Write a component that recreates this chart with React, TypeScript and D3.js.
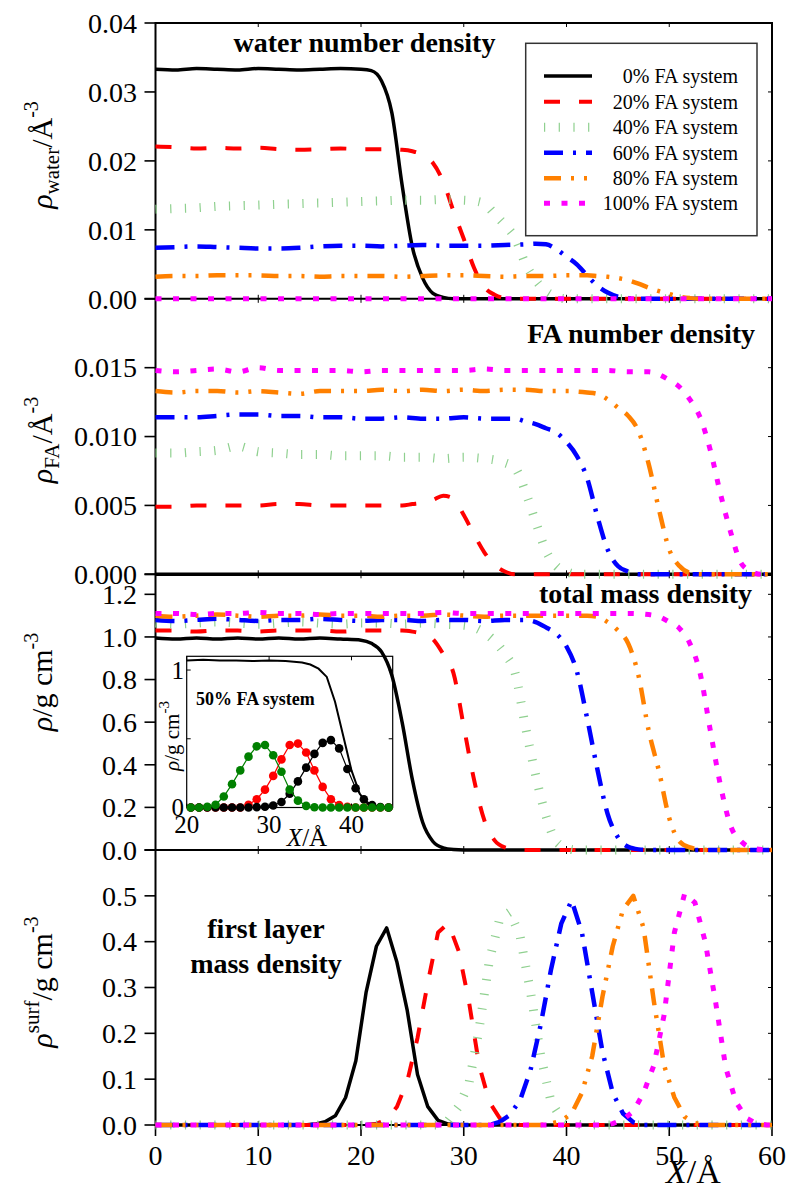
import React from 'react';
import * as d3 from 'd3';

type Pt = [number, number];

// ---------- labels ----------
const SERIES_LABELS = ['0% FA system', '20% FA system', '40% FA system', '60% FA system', '80% FA system', '100% FA system'];
const X_TICKS = [0, 10, 20, 30, 40, 50, 60];
const Y1_TICKS = [0, 0.01, 0.02, 0.03, 0.04];
const Y2_TICKS = [0, 0.005, 0.01, 0.015];
const Y3_TICKS = [0, 0.2, 0.4, 0.6, 0.8, 1.0, 1.2];
const Y4_TICKS = [0, 0.1, 0.2, 0.3, 0.4, 0.5];
const INSET_X_TICKS = [20, 30, 40];
const INSET_Y_TICKS = [0, 1];

// ---------- panel 1 : water number density ----------
const W0: Pt[] = [[0, .0333], [2, .0332], [4, .0334], [6, .0333], [8, .0332], [10, .0334], [12, .0333], [14, .0332], [16, .0333], [18, .0334], [20, .0333], [21, .0331], [22, .0316], [23, .027], [24, .0165], [25, .0075], [26, .003], [27, .0008], [28, .0002], [29, 0], [60, 0]];
const W20: Pt[] = [[0, .0221], [2, .022], [4, .0218], [6, .0219], [8, .0218], [10, .0219], [12, .0217], [14, .0216], [16, .0217], [18, .0218], [20, .0217], [22, .0217], [24, .0216], [25, .0214], [26, .0209], [27, .0197], [28, .0170], [29, .0127], [30, .0087], [31, .0045], [32, .0017], [33, .0006], [34, .0001], [35, 0], [60, 0]];
const W40: Pt[] = [[0, .013], [2, .0131], [4, .0132], [6, .0134], [8, .0135], [10, .0136], [12, .0137], [14, .0138], [16, .0139], [18, .014], [20, .0141], [22, .0142], [24, .0143], [26, .0143], [28, .0144], [30, .0143], [31, .0142], [32, .0138], [33, .0123], [34, .0107], [35, .0088], [36, .0051], [37, .0027], [38, .0011], [39, .0003], [40, 0], [60, 0]];
const W60: Pt[] = [[0, .0074], [2, .0075], [4, .0076], [6, .0075], [8, .0074], [10, .0073], [12, .0073], [14, .0074], [16, .0076], [18, .0077], [20, .0077], [22, .0076], [24, .0077], [26, .0078], [28, .0077], [30, .0077], [32, .0077], [34, .0078], [36, .0079], [37, .008], [38, .0079], [39, .0072], [40, .0061], [41, .005], [42, .0034], [43, .0019], [44, .0009], [45, .0003], [46, .0001], [47, 0], [60, 0]];
const W80: Pt[] = [[0, .0032], [2, .0033], [4, .0033], [6, .0034], [8, .0034], [10, .0034], [12, .0033], [14, .0033], [16, .0032], [18, .0033], [20, .0033], [22, .0033], [24, .0032], [26, .0033], [28, .0034], [30, .0034], [32, .0033], [34, .0032], [36, .0033], [38, .0033], [40, .0034], [42, .0034], [43, .0033], [44, .0032], [45, .003], [46, .0027], [47, .0022], [48, .0016], [49, .0011], [50, .0007], [51, .0003], [52, .0001], [53, 0], [60, 0]];
const W100: Pt[] = [[0, 0], [60, 0]];

// ---------- panel 2 : FA number density ----------
const F0: Pt[] = [[0, 0], [60, 0]];
const F20: Pt[] = [[0, .0049], [2, .0049], [4, .005], [6, .005], [8, .005], [10, .005], [12, .0051], [14, .0051], [16, .005], [18, .005], [20, .005], [22, .005], [24, .005], [25, .0051], [26, .0052], [27, .0054], [28, .0057], [29, .0055], [30, .0043], [31, .0029], [32, .0016], [33, .0007], [34, .0002], [35, 0], [60, 0]];
const F40: Pt[] = [[0, .0088], [2, .0088], [4, .0089], [6, .009], [8, .0093], [10, .0089], [12, .0088], [14, .0087], [16, .0087], [18, .0086], [20, .0086], [22, .0086], [24, .0085], [26, .0085], [28, .0084], [30, .0085], [32, .0084], [33, .0083], [34, .0081], [35, .0077], [36, .006], [37, .0038], [38, .0017], [39, .0006], [40, .0002], [41, 0], [60, 0]];
const F60: Pt[] = [[0, .0114], [2, .0114], [4, .0114], [6, .0115], [8, .0116], [10, .0116], [12, .0115], [14, .0115], [16, .0114], [18, .0114], [20, .0113], [22, .0113], [24, .0114], [26, .0113], [28, .0113], [30, .0114], [32, .0113], [34, .0113], [35, .0113], [36, .0111], [37, .0109], [38, .0106], [39, .0103], [40, .0096], [41, .0086], [42, .007], [43, .0042], [44, .0018], [45, .0006], [46, .0002], [47, 0], [60, 0]];
const F80: Pt[] = [[0, .0133], [2, .0132], [4, .0133], [6, .0133], [8, .0132], [10, .0133], [12, .0132], [14, .0131], [16, .0133], [18, .0133], [20, .0133], [22, .0134], [24, .0133], [26, .0134], [28, .0133], [30, .0134], [32, .0133], [34, .0134], [36, .0134], [38, .0133], [40, .0133], [42, .0132], [43, .0131], [44, .0127], [45, .0121], [46, .0115], [47, .0104], [48, .008], [49, .0047], [50, .0018], [51, .0006], [52, .0001], [53, 0], [60, 0]];
const F100: Pt[] = [[0, .0148], [2, .0147], [4, .0148], [6, .0149], [8, .0147], [10, .015], [12, .0148], [14, .0148], [16, .0148], [18, .0148], [20, .0147], [22, .0148], [24, .0148], [26, .0148], [28, .0148], [30, .0148], [32, .0149], [34, .0148], [36, .0148], [38, .0148], [40, .0148], [42, .0148], [44, .0148], [46, .0147], [47, .0147], [48, .0147], [49, .0145], [50, .0141], [51, .0136], [52, .0127], [53, .0114], [54, .009], [55, .0058], [56, .003], [57, .0008], [58, .0002], [59, 0], [60, 0]];

// ---------- panel 3 : total mass density ----------
const T0: Pt[] = [[0, .995], [2, .99], [4, .995], [6, .99], [8, .995], [10, .99], [12, .995], [14, .99], [16, .995], [18, .99], [20, .985], [21, .97], [22, .93], [23, .82], [24, .6], [25, .33], [26, .13], [27, .04], [28, .01], [29, .002], [30, 0], [60, 0]];
const T20: Pt[] = [[0, 1.03], [2, 1.03], [4, 1.025], [6, 1.03], [8, 1.03], [10, 1.025], [12, 1.03], [14, 1.03], [16, 1.03], [18, 1.025], [20, 1.03], [22, 1.03], [24, 1.03], [25, 1.025], [26, 1.015], [27, .99], [28, .92], [29, .83], [30, .58], [31, .33], [32, .14], [33, .045], [34, .012], [35, .003], [36, 0], [60, 0]];
const T40: Pt[] = [[0, 1.065], [2, 1.06], [4, 1.065], [6, 1.07], [8, 1.065], [10, 1.06], [12, 1.065], [14, 1.07], [16, 1.065], [18, 1.06], [20, 1.065], [22, 1.065], [24, 1.06], [26, 1.065], [28, 1.06], [30, 1.055], [31, 1.045], [32, 1.02], [33, .98], [34, .92], [35, .83], [36, .58], [37, .35], [38, .16], [39, .04], [40, .01], [41, 0], [60, 0]];
const T60: Pt[] = [[0, 1.08], [2, 1.075], [4, 1.08], [6, 1.085], [8, 1.08], [10, 1.075], [12, 1.08], [14, 1.08], [16, 1.085], [18, 1.08], [20, 1.075], [22, 1.08], [24, 1.08], [26, 1.075], [28, 1.08], [30, 1.08], [32, 1.075], [34, 1.08], [36, 1.08], [37, 1.07], [38, 1.045], [39, 1.015], [40, .955], [41, .84], [42, .62], [43, .38], [44, .17], [45, .06], [46, .015], [47, .003], [48, 0], [60, 0]];
const T80: Pt[] = [[0, 1.1], [2, 1.095], [4, 1.1], [6, 1.105], [8, 1.1], [10, 1.095], [12, 1.1], [14, 1.1], [16, 1.105], [18, 1.1], [20, 1.1], [22, 1.095], [24, 1.1], [26, 1.1], [28, 1.105], [30, 1.1], [32, 1.095], [34, 1.1], [36, 1.1], [38, 1.1], [40, 1.1], [42, 1.1], [43, 1.095], [44, 1.07], [45, 1.03], [46, .97], [47, .82], [48, .56], [49, .37], [50, .15], [51, .04], [52, .012], [53, .003], [54, 0], [60, 0]];
const T100: Pt[] = [[0, 1.11], [2, 1.11], [4, 1.105], [6, 1.11], [8, 1.11], [10, 1.115], [12, 1.11], [14, 1.11], [16, 1.105], [18, 1.11], [20, 1.11], [22, 1.11], [24, 1.11], [26, 1.11], [28, 1.115], [30, 1.11], [32, 1.11], [34, 1.11], [36, 1.11], [38, 1.11], [40, 1.11], [42, 1.11], [44, 1.11], [46, 1.11], [48, 1.105], [49, 1.095], [50, 1.07], [51, 1.04], [52, .97], [53, .83], [54, .56], [55, .30], [56, .11], [57, .04], [58, .01], [59, .002], [60, 0]];

// ---------- panel 4 : first layer mass density ----------
const S0: Pt[] = [[0, 0], [14.5, 0], [15.5, .002], [16.5, .007], [17.5, .02], [18.5, .06], [19.5, .14], [20.5, .29], [21.5, .39], [22.5, .43], [23.5, .355], [24.5, .25], [25.5, .11], [26.5, .04], [27.5, .01], [28.5, .002], [29.5, 0], [60, 0]];
const S20: Pt[] = [[0, 0], [20.5, 0], [21.5, .003], [22.5, .012], [23.5, .04], [24.5, .095], [25.5, .19], [26.5, .31], [27.5, .42], [28.5, .44], [29.5, .38], [30.5, .27], [31.5, .13], [32.5, .05], [33.5, .015], [34.5, .003], [35.5, 0], [60, 0]];
const S40: Pt[] = [[0, 0], [27.5, 0], [28.5, .01], [29.5, .04], [30.5, .09], [31.5, .21], [32.5, .36], [33.5, .45], [34.5, .465], [35.5, .41], [36.5, .29], [37.5, .15], [38.5, .05], [39.5, .015], [40.5, .004], [41.5, 0], [60, 0]];
const S60: Pt[] = [[0, 0], [32.5, 0], [33.5, .007], [34.5, .022], [35.5, .055], [36.5, .12], [37.5, .22], [38.5, .34], [39.5, .44], [40.5, .49], [41.5, .42], [42.5, .29], [43.5, .16], [44.5, .07], [45.5, .025], [46.5, .006], [47.5, 0], [60, 0]];
const S80: Pt[] = [[0, 0], [37.5, 0], [38.5, .003], [39.5, .009], [40.5, .025], [41.5, .07], [42.5, .15], [43.5, .28], [44.5, .39], [45.5, .47], [46.5, .5], [47.5, .43], [48.5, .27], [49.5, .13], [50.5, .06], [51.5, .018], [52.5, .004], [53.5, 0], [60, 0]];
const S100: Pt[] = [[0, 0], [43.5, 0], [44.5, .003], [45.5, .012], [46.5, .03], [47.5, .07], [48.5, .13], [49.5, .24], [50.5, .42], [51.5, .505], [52.5, .485], [53.5, .4], [54.5, .27], [55.5, .125], [56.5, .05], [57.5, .015], [58.5, .003], [59.5, 0], [60, 0]];

// ---------- inset : 50% FA system ----------
const INSET_TOTAL: Pt[] = [[20, 1.07], [22, 1.075], [24, 1.07], [26, 1.07], [28, 1.065], [30, 1.07], [32, 1.065], [33, 1.06], [34, 1.055], [35, 1.04], [36, 1.01], [37, .95], [38, .77], [39, .52], [40, .27], [41, .1], [42, .025], [43, .005], [44, 0], [45, 0]];
const INSET_X = [20.5, 21.5, 22.5, 23.5, 24.5, 25.5, 26.5, 27.5, 28.5, 29.5, 30.5, 31.5, 32.5, 33.5, 34.5, 35.5, 36.5, 37.5, 38.5, 39.5, 40.5, 41.5, 42.5, 43.5, 44.5];
const INSET_GREEN = [0, 0, .005, .02, .08, .17, .27, .37, .445, .455, .38, .26, .13, .05, .012, .002, 0, 0, 0, 0, 0, 0, 0, 0, 0];
const INSET_RED = [0, 0, 0, 0, 0, 0, 0, .02, .06, .13, .23, .35, .455, .465, .4, .27, .15, .06, .018, .005, 0, 0, 0, 0, 0];
const INSET_BLACK = [0, 0, 0, 0, 0, 0, 0, 0, .003, .006, .015, .04, .1, .19, .29, .39, .47, .49, .43, .28, .14, .06, .018, .004, 0];

// ---------- styles ----------
const COLORS = ['#000000', '#ff0000', '#8fd08f', '#0000ff', '#ff8000', '#ff00ff'];
const WIDTHS = [3.5, 4, 9, 4.5, 4.5, 5];
const DASHES = ['', '16 19', '1.2 13.5', '19 10 3 10', '17 10 3 10 3 10', '6 11.5'];

const FONT = "'Liberation Serif', 'Times New Roman', serif";

export default function App() {
  const x = d3.scaleLinear().domain([0, 60]).range([155.5, 772]);
  const L = 155.5, R = 772;

  const panels = [
    { top: 23, bottom: 298.8, domain: [0, 0.04], ticks: Y1_TICKS, fmt: d3.format('.2f'), data: [W0, W20, W40, W60, W80, W100], curve: d3.curveMonotoneX },
    { top: 298.8, bottom: 574.3, domain: [0, 0.02], ticks: Y2_TICKS, fmt: d3.format('.3f'), data: [F0, F20, F40, F60, F80, F100], curve: d3.curveMonotoneX },
    { top: 574.3, bottom: 850, domain: [0, 1.294], ticks: Y3_TICKS, fmt: d3.format('.1f'), data: [T0, T20, T40, T60, T80, T100], curve: d3.curveMonotoneX },
    { top: 850, bottom: 1125, domain: [0, 0.6], ticks: Y4_TICKS, fmt: d3.format('.1f'), data: [S0, S20, S40, S60, S80, S100], curve: d3.curveLinear },
  ];

  const ix = d3.scaleLinear().domain([20, 45]).range([186.7, 392.7]);
  const iy = d3.scaleLinear().domain([0, 1.1]).range([807.5, 656.3]);
  const insetLine = d3.line<Pt>().x(d => ix(d[0])).y(d => iy(d[1]));
  const insetSeries = [
    { vals: INSET_RED, color: '#ff0000' },
    { vals: INSET_BLACK, color: '#000000' },
    { vals: INSET_GREEN, color: '#008000' },
  ];

  const legendRows = [76, 101.7, 127.3, 152.7, 178.3, 203.3];

  return (
    <svg width={790} height={1191} style={{ position: 'absolute', left: 0, top: 0, background: '#fff' }} fontFamily={FONT}>
      <rect x={0} y={0} width={790} height={1191} fill="#fff" />
      {/* frames, ticks */}
      {panels.map((p, pi) => {
        const y = d3.scaleLinear().domain(p.domain).range([p.bottom, p.top]);
        return (
          <g key={'ax' + pi}>
            {p.ticks.map(t => (
              <g key={t}>
                <line x1={L - 11} x2={L} y1={y(t)} y2={y(t)} stroke="#000" strokeWidth={1.6} />
                <line x1={R - 4} x2={R} y1={y(t)} y2={y(t)} stroke="#000" strokeWidth={1} />
                <text x={137} y={y(t)} dy="0.35em" textAnchor="end" fontSize={28}>{p.fmt(t)}</text>
              </g>
            ))}
            {X_TICKS.map(t => (
              <g key={'xt' + t}>
                <line x1={x(t)} x2={x(t)} y1={p.top} y2={p.top + 4} stroke="#000" strokeWidth={1} />
                <line x1={x(t)} x2={x(t)} y1={p.bottom} y2={p.bottom - 4} stroke="#000" strokeWidth={1} />
              </g>
            ))}
          </g>
        );
      })}
      <rect x={L} y={23} width={R - L} height={1125 - 23} fill="none" stroke="#000" strokeWidth={2} />
      {[298.8, 574.3, 850].map(v => (
        <line key={v} x1={L - 11} x2={R} y1={v} y2={v} stroke="#000" strokeWidth={2} />
      ))}
      {X_TICKS.map(t => (
        <g key={'bx' + t}>
          <line x1={x(t)} x2={x(t)} y1={1125} y2={1136} stroke="#000" strokeWidth={1.6} />
          <text x={x(t)} y={1165} textAnchor="middle" fontSize={28}>{t}</text>
        </g>
      ))}

      {/* inset (drawn beneath the main curves) */}
      <g>
        <rect x={186.7} y={656.3} width={206} height={151.2} fill="#fff" stroke="#000" strokeWidth={1.2} />
        {INSET_Y_TICKS.map(t => (
          <g key={'iy' + t}>
            <line x1={186.7} x2={190.7} y1={iy(t)} y2={iy(t)} stroke="#000" strokeWidth={1} />
            <line x1={392.7} x2={388.7} y1={iy(t)} y2={iy(t)} stroke="#000" strokeWidth={1} />
            <text x={184} y={iy(t)} dy="0.35em" textAnchor="end" fontSize={25}>{t}</text>
          </g>
        ))}
        <line x1={186.7} x2={190.7} y1={iy(0.5)} y2={iy(0.5)} stroke="#000" strokeWidth={1} />
        <line x1={392.7} x2={388.7} y1={iy(0.5)} y2={iy(0.5)} stroke="#000" strokeWidth={1} />
        {INSET_X_TICKS.map(t => (
          <g key={'ix' + t}>
            <line x1={ix(t)} x2={ix(t)} y1={807.5} y2={803.5} stroke="#000" strokeWidth={1} />
            <line x1={ix(t)} x2={ix(t)} y1={656.3} y2={660.3} stroke="#000" strokeWidth={1} />
            <text x={ix(t)} y={833} textAnchor="middle" fontSize={25}>{t}</text>
          </g>
        ))}
        <path d={insetLine(INSET_TOTAL) || ''} fill="none" stroke="#000" strokeWidth={2} />
        {insetSeries.map((s, si) => {
          const pts: Pt[] = INSET_X.map((xv, k) => [xv, s.vals[k]]);
          return (
            <g key={'is' + si}>
              <path d={insetLine(pts) || ''} fill="none" stroke={s.color} strokeWidth={1.2} />
              {pts.map((p, k) => (
                <circle key={k} cx={ix(p[0])} cy={iy(p[1])} r={4.3} fill={s.color} />
              ))}
            </g>
          );
        })}
        <text x={196} y={705} fontSize={18} fontWeight="bold">50% FA system</text>
        <text transform="translate(179,736) rotate(-90)" textAnchor="middle" fontSize={21}>
          <tspan fontStyle="italic">ρ</tspan><tspan>/g cm</tspan><tspan fontSize={15} dy={-10}>-3</tspan>
        </text>
        <text x={307} y={846} textAnchor="middle" fontSize={25}><tspan fontStyle="italic">X</tspan>/Å</text>
      </g>

      {/* data */}
      {panels.map((p, pi) => {
        const y = d3.scaleLinear().domain(p.domain).range([p.bottom, p.top]);
        const line = d3.line<Pt>().x(d => x(d[0])).y(d => y(d[1])).curve(p.curve);
        return (
          <g key={'d' + pi}>
            {p.data.map((s, si) => (
              <path key={si} d={line(s) || ''} fill="none" stroke={COLORS[si]} strokeWidth={WIDTHS[si]}
                strokeDasharray={DASHES[si] || undefined} strokeLinejoin="round" />
            ))}
          </g>
        );
      })}

      {/* legend */}
      <rect x={525.7} y={43.3} width={231.3} height={192.4} fill="#fff" stroke="#333" strokeWidth={1.5} />
      {SERIES_LABELS.map((lab, i) => (
        <g key={lab}>
          <line x1={544} x2={592} y1={legendRows[i]} y2={legendRows[i]} stroke={COLORS[i]} strokeWidth={WIDTHS[i]}
            strokeDasharray={DASHES[i] || undefined} />
          <text x={738} y={legendRows[i] + 7} textAnchor="end" fontSize={20}>{lab}</text>
        </g>
      ))}

      {/* panel titles */}
      <text x={364.5} y={52} textAnchor="middle" fontSize={28} fontWeight="bold">water number density</text>
      <text x={755} y={343} textAnchor="end" fontSize={28} fontWeight="bold">FA number density</text>
      <text x={752} y={603} textAnchor="end" fontSize={28} fontWeight="bold">total mass density</text>
      <text x={266} y={938} textAnchor="middle" fontSize={28} fontWeight="bold">first layer</text>
      <text x={266} y={973} textAnchor="middle" fontSize={28} fontWeight="bold">mass density</text>

      {/* y axis titles */}
      <text transform="translate(52,155) rotate(-90)" textAnchor="middle" fontSize={30}>
        <tspan fontStyle="italic">ρ</tspan><tspan fontSize={21} dy={7}>water</tspan><tspan dy={-7}>/Å</tspan><tspan fontSize={20} dy={-14}>-3</tspan>
      </text>
      <text transform="translate(52,440) rotate(-90)" textAnchor="middle" fontSize={30}>
        <tspan fontStyle="italic">ρ</tspan><tspan fontSize={21} dy={7}>FA</tspan><tspan dy={-7}>/Å</tspan><tspan fontSize={20} dy={-14}>-3</tspan>
      </text>
      <text transform="translate(52,682) rotate(-90)" textAnchor="middle" fontSize={30}>
        <tspan fontStyle="italic">ρ</tspan><tspan>/g cm</tspan><tspan fontSize={20} dy={-14}>-3</tspan>
      </text>
      <text transform="translate(52,982) rotate(-90)" textAnchor="middle" fontSize={30}>
        <tspan fontStyle="italic">ρ</tspan><tspan fontSize={21} dy={-13}>surf</tspan><tspan dy={13}>/g cm</tspan><tspan fontSize={20} dy={-14}>-3</tspan>
      </text>

      {/* x axis title */}
      <text x={666} y={1183} fontSize={34}><tspan fontStyle="italic">X</tspan>/Å</text>
    </svg>
  );
}
